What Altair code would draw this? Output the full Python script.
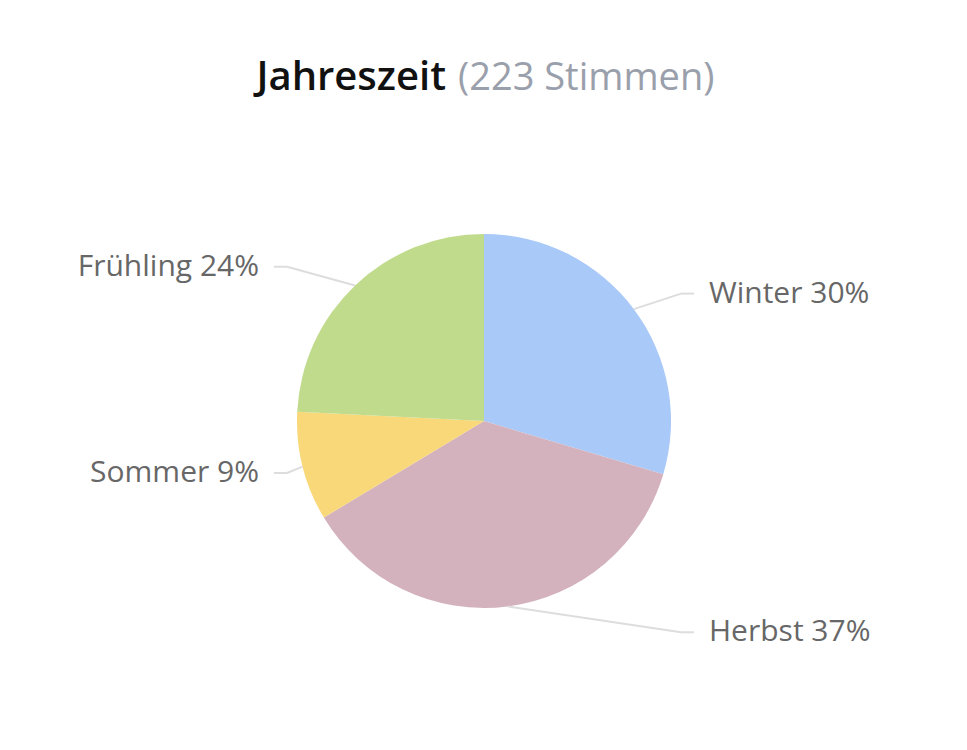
import altair as alt
import pandas as pd

# ---- data ----
seasons = ["Winter", "Herbst", "Sommer", "Frühling"]
votes = [66, 82, 21, 54]
colors = ["#a9c9f8", "#d3b2bd", "#f8d879", "#c1db8d"]
title_main = ["Jahreszeit"]
title_sub = ["(223 Stimmen)"]

df = pd.DataFrame({"season": seasons, "votes": votes, "idx": list(range(len(seasons)))})

# ---- layout ----
CX, CY, R = 476, 413, 187
LR = R + 26
COL = 225
FONT = "Open Sans"

base = (
    alt.Chart(df)
    .transform_joinaggregate(total="sum(votes)")
    .transform_window(cum="sum(votes)", sort=[alt.SortField("idx")], frame=[None, 0])
    .transform_calculate(
        mid="2*PI*(datum.cum - datum.votes/2)/datum.total",
        label="datum.season + ' ' + round(100*datum.votes/datum.total) + '%'",
        side="sin(datum.mid) >= 0 ? 1 : -1",
        ex=f"{CX} + {R}*sin(datum.mid)",
        ey=f"{CY} - {R}*cos(datum.mid)",
        ly=f"{CY} - {LR}*cos(datum.mid)",
        bx=f"{CX} + datum.side*{COL - 28}",
        tx=f"{CX} + datum.side*{COL - 15}",
        lx=f"{CX} + datum.side*{COL}",
    )
)

arc = alt.Chart(df).mark_arc(outerRadius=R, strokeWidth=0).encode(
    theta=alt.Theta("votes:Q", stack=True),
    order=alt.Order("idx:Q"),
    color=alt.Color("season:N", scale=alt.Scale(domain=seasons, range=colors), legend=None),
    x=alt.value(CX),
    y=alt.value(CY),
)

line_col = "#dddddd"
rule1 = base.mark_rule(color=line_col, strokeWidth=2).encode(
    x=alt.X("ex:Q", scale=None, axis=None),
    y=alt.Y("ey:Q", scale=None, axis=None),
    x2="bx:Q",
    y2="ly:Q",
)
rule2 = base.mark_rule(color=line_col, strokeWidth=2).encode(
    x=alt.X("bx:Q", scale=None, axis=None),
    y=alt.Y("ly:Q", scale=None, axis=None),
    x2="tx:Q",
    y2="ly:Q",
)

label_style = dict(baseline="middle", font=FONT, fontSize=30, color="#676767")
text_r = base.transform_filter("datum.side > 0").mark_text(align="left", **label_style).encode(
    x=alt.X("lx:Q", scale=None, axis=None),
    y=alt.Y("ly:Q", scale=None, axis=None),
    text="label:N",
)
text_l = base.transform_filter("datum.side < 0").mark_text(align="right", **label_style).encode(
    x=alt.X("lx:Q", scale=None, axis=None),
    y=alt.Y("ly:Q", scale=None, axis=None),
    text="label:N",
)

t1 = alt.Chart(pd.DataFrame({"t": title_main})).mark_text(
    align="right", baseline="alphabetic", font=FONT, fontSize=40, fontWeight=600, color="#111111"
).encode(x=alt.value(438), y=alt.value(82), text="t:N")
t2 = alt.Chart(pd.DataFrame({"t": title_sub})).mark_text(
    align="left", baseline="alphabetic", font=FONT, fontSize=38, color="#9aa0ab"
).encode(x=alt.value(450), y=alt.value(82), text="t:N")

chart = (
    alt.layer(arc, rule1, rule2, text_r, text_l, t1, t2)
    .properties(width=951, height=720, padding=0, autosize="none")
    .configure_view(stroke=None)
)

chart.save("out.html", embed_options={"renderer": "svg", "actions": False})
